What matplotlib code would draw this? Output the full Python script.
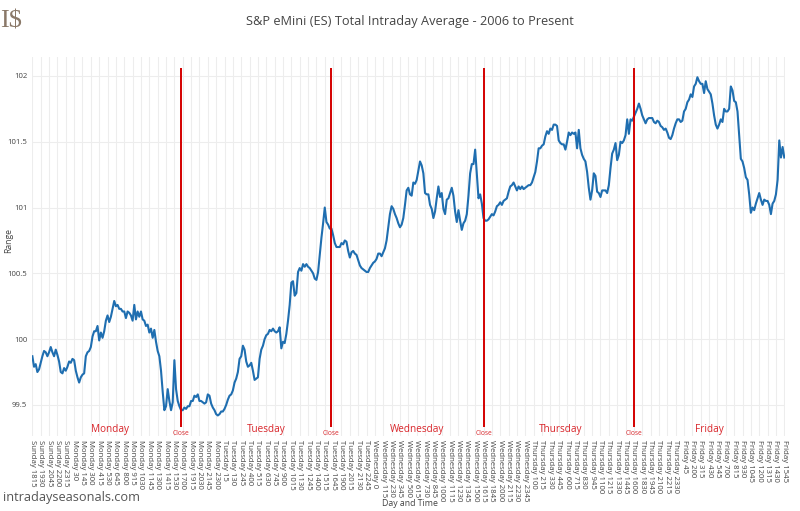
import numpy as np
import matplotlib
matplotlib.use("Agg")
import matplotlib.pyplot as plt

plt.rcParams['font.family'] = ['Open Sans', 'DejaVu Sans']

# --- Dados: media intraday por barra de 15 min (Domingo noite -> Sexta) ---
sessao_seg = [99.87, 99.79, 99.81, 99.75, 99.77, 99.82, 99.87, 99.91, 99.90, 99.87,
              99.90, 99.94, 99.90, 99.87, 99.92, 99.88, 99.83, 99.75, 99.74, 99.78,
              99.76, 99.79, 99.83, 99.82, 99.85, 99.84, 99.76, 99.71, 99.67, 99.71,
              99.73, 99.74, 99.87, 99.90, 99.91, 99.94, 100.02, 100.06, 100.06, 100.10,
              99.99, 100.05, 100.01, 100.06, 100.14, 100.18, 100.13, 100.17, 100.23, 100.29,
              100.25, 100.26, 100.23, 100.23, 100.21, 100.21, 100.16, 100.21, 100.20, 100.18,
              100.14, 100.26, 100.15, 100.21, 100.17, 100.21, 100.15, 100.14, 100.10, 100.11,
              100.05, 100.08, 100.01, 100.07, 99.98, 99.91, 99.87, 99.76, 99.60, 99.46,
              99.49, 99.62, 99.53, 99.46, 99.52, 99.84, 99.62, 99.53, 99.49]
sessao_ter = [99.46, 99.46, 99.48, 99.47, 99.49, 99.49, 99.53, 99.53, 99.57, 99.56,
              99.58, 99.53, 99.53, 99.52, 99.51, 99.52, 99.58, 99.57, 99.51, 99.48,
              99.46, 99.43, 99.42, 99.43, 99.45, 99.45, 99.47, 99.50, 99.54, 99.57,
              99.58, 99.61, 99.67, 99.70, 99.75, 99.85, 99.87, 99.95, 99.92, 99.83,
              99.79, 99.80, 99.82, 99.76, 99.69, 99.70, 99.71, 99.85, 99.92, 99.95,
              100.00, 100.03, 100.04, 100.07, 100.06, 100.08, 100.06, 100.05, 100.06, 100.09,
              99.93, 99.98, 99.97, 100.04, 100.14, 100.26, 100.43, 100.44, 100.33, 100.35,
              100.51, 100.54, 100.52, 100.57, 100.55, 100.57, 100.55, 100.54, 100.52, 100.50,
              100.46, 100.45, 100.51, 100.64, 100.77, 100.88, 101.00, 100.89, 100.87, 100.84]
sessao_qua = [100.84, 100.79, 100.73, 100.70, 100.70, 100.70, 100.73, 100.72, 100.75, 100.74,
              100.67, 100.62, 100.66, 100.67, 100.65, 100.64, 100.60, 100.56, 100.54, 100.53,
              100.52, 100.51, 100.51, 100.54, 100.56, 100.58, 100.59, 100.61, 100.65, 100.65,
              100.63, 100.66, 100.69, 100.75, 100.85, 100.95, 101.01, 100.99, 100.95, 100.92,
              100.88, 100.85, 100.87, 100.92, 101.02, 101.13, 101.15, 101.10, 101.09, 101.19,
              101.18, 101.21, 101.28, 101.35, 101.32, 101.26, 101.11, 101.10, 101.10, 101.02,
              100.99, 100.92, 100.97, 101.07, 101.16, 101.08, 101.11, 100.99, 100.95, 101.06,
              101.07, 101.11, 101.15, 101.09, 100.97, 100.89, 100.98, 100.90, 100.83, 100.88,
              100.90, 100.95, 101.09, 101.26, 101.33, 101.33, 101.44, 101.26, 101.07, 101.10,
              101.03]
sessao_qui = [100.92, 100.90, 100.90, 100.91, 100.93, 100.95, 100.94, 100.97, 101.01, 101.02,
              101.04, 101.02, 101.05, 101.06, 101.07, 101.12, 101.16, 101.17, 101.19, 101.16,
              101.13, 101.16, 101.14, 101.16, 101.14, 101.15, 101.16, 101.17, 101.17, 101.19,
              101.23, 101.27, 101.35, 101.45, 101.45, 101.47, 101.48, 101.54, 101.58, 101.56,
              101.60, 101.59, 101.63, 101.63, 101.62, 101.51, 101.49, 101.48, 101.48, 101.44,
              101.50, 101.57, 101.55, 101.57, 101.56, 101.57, 101.45, 101.59, 101.45, 101.40,
              101.37, 101.35, 101.27, 101.15, 101.06, 101.13, 101.26, 101.24, 101.12, 101.11,
              101.08, 101.13, 101.13, 101.13, 101.11, 101.17, 101.30, 101.41, 101.44, 101.49,
              101.36, 101.40, 101.50, 101.49, 101.51, 101.55, 101.67, 101.56, 101.67, 101.66]
sessao_sex = [101.69, 101.72, 101.75, 101.79, 101.75, 101.70, 101.67, 101.64, 101.67, 101.68,
              101.68, 101.68, 101.65, 101.64, 101.66, 101.65, 101.62, 101.61, 101.59, 101.60,
              101.57, 101.53, 101.52, 101.55, 101.60, 101.64, 101.67, 101.67, 101.65, 101.66,
              101.73, 101.75, 101.80, 101.82, 101.86, 101.84, 101.92, 101.94, 101.99, 101.96,
              101.94, 101.94, 101.87, 101.96, 101.90, 101.88, 101.86, 101.79, 101.70, 101.63,
              101.60, 101.63, 101.67, 101.65, 101.75, 101.73, 101.73, 101.75, 101.92, 101.89,
              101.81, 101.80, 101.73, 101.55, 101.37, 101.35, 101.30, 101.23, 101.21, 101.10,
              100.96, 101.00, 100.98, 101.03, 101.07, 101.11, 101.06, 101.02, 101.06, 101.05,
              101.05, 101.02, 100.95, 101.03, 101.05, 101.10, 101.21, 101.51, 101.38, 101.46,
              101.38]

media = sessao_seg + sessao_ter + sessao_qua + sessao_qui + sessao_sex

# Rotulos do eixo x (um a cada 5 barras)
horarios = {
    'Sunday': [1815, 1930, 2045, 2200, 2315],
    'Monday': [30, 145, 300, 415, 530, 645, 800, 915, 1030, 1145, 1300, 1415, 1530,
               1700, 1915, 2030, 2145, 2300],
    'Tuesday': [15, 130, 245, 400, 515, 630, 745, 900, 1015, 1130, 1245, 1400, 1515,
                1645, 1900, 2015, 2130, 2245],
    'Wednesday': [0, 115, 230, 345, 500, 615, 730, 845, 1000, 1115, 1230, 1345, 1500,
                  1615, 1845, 2000, 2115, 2230, 2345],
    'Thursday': [100, 215, 330, 445, 600, 715, 830, 945, 1100, 1215, 1330, 1445, 1600,
                 1830, 1945, 2100, 2215, 2330],
    'Friday': [45, 200, 315, 430, 545, 700, 815, 930, 1045, 1200, 1315, 1430, 1545],
}
rotulos_x = [f"{dia} {h}" for dia, lista in horarios.items() for h in lista]

# Fechamentos (linhas vermelhas) e nomes dos dias
fechamentos = [89, 179, 270, 360]
dias = ['Monday', 'Tuesday', 'Wednesday', 'Thursday', 'Friday']
pos_dias = [46.5, 140, 230, 316, 405]

vermelho = '#d9262b'

# --- Grafico ---
fig = plt.figure(figsize=(8, 5.11), dpi=100)
ax = fig.add_axes([0.0394, 0.1468, 0.942, 0.7417])

x = np.arange(len(media))
ax.plot(x, media, color='#1f6eb0', linewidth=1.5, zorder=3)

ax.vlines(fechamentos, 99.33, 102.06, color='#d40000', linewidth=1.4, zorder=4)
for f in fechamentos:
    ax.text(f, 99.28, 'Close', color=vermelho, fontsize=4.8, ha='center', va='center')
for nome, p in zip(dias, pos_dias):
    ax.text(p, 99.315, nome, color=vermelho, fontsize=7.2, ha='center', va='center')

ax.set_xlim(-0.5, len(media) - 0.5)
ax.set_ylim(99.264, 102.144)

ax.set_xticks(np.arange(0, len(media), 5))
ax.set_xticklabels(rotulos_x, rotation=-90, fontsize=5.6, color='#444444')
ax.set_yticks([99.5, 100, 100.5, 101, 101.5, 102])
ax.set_yticklabels(['99.5', '100', '100.5', '101', '101.5', '102'], fontsize=5.6, color='#444444')
ax.tick_params(length=0, pad=3)

ax.grid(True, color='#ededed', linewidth=0.8)
ax.set_axisbelow(True)
for s in ax.spines.values():
    s.set_visible(False)

fig.text(0.5125, 0.957, 'S&P eMini (ES) Total Intraday Average - 2006 to Present',
         ha='center', va='center', fontsize=9.2, color='#444444')
fig.text(0.011, 0.53, 'Range', rotation=90, ha='center', va='center', fontsize=6.2, color='#444444')
fig.text(0.5125, 0.014, 'Day and Time', ha='center', va='center', fontsize=6.3, color='#444444')
fig.text(0.004, 0.027, 'intradayseasonals.com', ha='left', va='center', fontsize=9.2, color='#555555')
fig.text(0.0, 0.957, 'I$', ha='left', va='center', fontsize=19, color='#8a7868',
         family=['Liberation Serif', 'DejaVu Serif'])

plt.savefig('out.png', dpi=100)
